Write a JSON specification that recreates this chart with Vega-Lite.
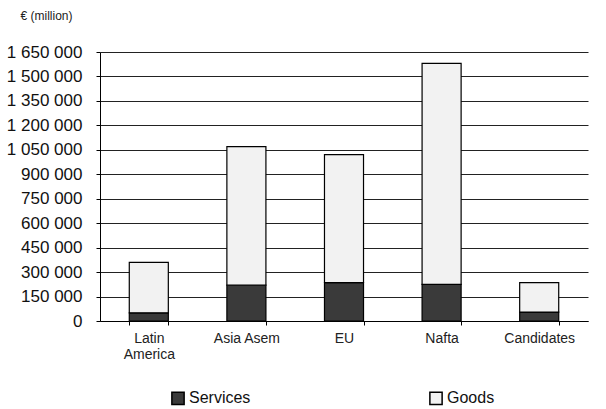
{
  "$schema": "https://vega.github.io/schema/vega-lite/v6.json",
  "width": 488,
  "height": 269,
  "autosize": {"type": "none"},
  "padding": {"left": 100, "top": 52, "right": 18, "bottom": 88},
  "background": "white",
  "data": {
    "values": [
      {"region": "Latin America", "type": "Services", "order": 1, "value": 50000},
      {"region": "Latin America", "type": "Goods", "order": 2, "value": 310000},
      {"region": "Asia Asem", "type": "Services", "order": 1, "value": 220000},
      {"region": "Asia Asem", "type": "Goods", "order": 2, "value": 850000},
      {"region": "EU", "type": "Services", "order": 1, "value": 235000},
      {"region": "EU", "type": "Goods", "order": 2, "value": 785000},
      {"region": "Nafta", "type": "Services", "order": 1, "value": 225000},
      {"region": "Nafta", "type": "Goods", "order": 2, "value": 1355000},
      {"region": "Candidates", "type": "Services", "order": 1, "value": 55000},
      {"region": "Candidates", "type": "Goods", "order": 2, "value": 180000}
    ]
  },
  "mark": {"type": "bar", "stroke": "black", "strokeWidth": 1.2},
  "encoding": {
    "x": {
      "field": "region",
      "type": "nominal",
      "sort": ["Latin America", "Asia Asem", "EU", "Nafta", "Candidates"],
      "scale": {"paddingInner": 0.6, "paddingOuter": 0.3},
      "axis": {
        "title": null,
        "labelAngle": 0,
        "labelFont": "Liberation Sans",
        "labelFontSize": 14,
        "labelColor": "#222",
        "labelPadding": 6,
        "labelExpr": "datum.label == 'Latin America' ? ['Latin', 'America'] : datum.label",
        "tickBand": "extent",
        "tickSize": 4,
        "tickColor": "black",
        "domainColor": "black",
        "grid": false
      }
    },
    "y": {
      "field": "value",
      "type": "quantitative",
      "stack": "zero",
      "scale": {"domain": [0, 1650000], "nice": false},
      "axis": {
        "title": "€ (million)",
        "titleAngle": 0,
        "titleAlign": "left",
        "titleBaseline": "middle",
        "titleX": -80,
        "titleY": -37,
        "titleFont": "Liberation Sans",
        "titleFontSize": 12,
        "titleFontWeight": "normal",
        "titleColor": "#222",
        "values": [0, 150000, 300000, 450000, 600000, 750000, 900000, 1050000, 1200000, 1350000, 1500000, 1650000],
        "labelExpr": "replace(format(datum.value, ',d'), /,/g, ' ')",
        "labelFont": "Liberation Sans",
        "labelFontSize": 17,
        "labelColor": "#111",
        "labelPadding": 14,
        "tickSize": 4,
        "tickColor": "black",
        "domainColor": "black",
        "grid": true,
        "gridColor": "#222",
        "gridWidth": 1
      }
    },
    "color": {
      "field": "type",
      "type": "nominal",
      "scale": {"domain": ["Services", "Goods"], "range": ["#3a3a3a", "#f2f2f2"]},
      "legend": {
        "title": null,
        "orient": "none",
        "legendX": 70,
        "legendY": 338,
        "direction": "horizontal",
        "columns": 2,
        "columnPadding": 175,
        "symbolType": "square",
        "symbolSize": 150,
        "symbolStrokeColor": "black",
        "symbolStrokeWidth": 1.5,
        "labelFont": "Liberation Sans",
        "labelFontSize": 16,
        "labelColor": "#111",
        "labelOffset": 3
      }
    },
    "order": {"field": "order", "type": "quantitative"}
  },
  "config": {
    "view": {"stroke": null}
  }
}
